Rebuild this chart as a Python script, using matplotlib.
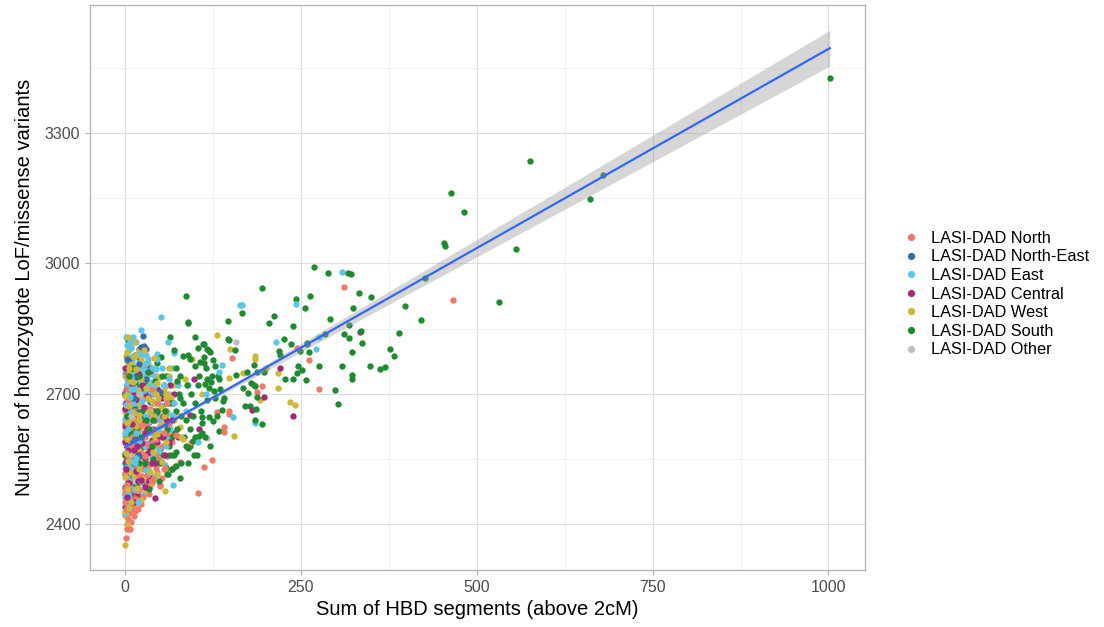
import numpy as np
import matplotlib.pyplot as plt
from matplotlib.lines import Line2D

plt.rcParams['font.family'] = ['Liberation Sans', 'DejaVu Sans']

# groups, legend order
groups = ["LASI-DAD North", "LASI-DAD North-East", "LASI-DAD East", "LASI-DAD Central",
          "LASI-DAD West", "LASI-DAD South", "LASI-DAD Other"]
colors = ["#F07A6A", "#3A6CA8", "#5CC6EA", "#A5287C", "#CDB83A", "#1F8A30", "#BEBEBE"]

# (HBD sum, hom LoF/missense count)
north_pts = [
    [1, 2368], [3, 2389], [5, 2388], [7, 2388], [2, 2398], [9, 2405], [4, 2412], [12, 2418], [0, 2422],
    [6, 2426], [14, 2430], [18, 2436], [2, 2440], [10, 2442], [22, 2446], [0, 2452], [7, 2455], [16, 2458],
    [26, 2462], [3, 2468], [12, 2470], [30, 2474], [20, 2478], [0, 2482], [8, 2485], [35, 2488], [49, 2489],
    [50, 2490], [15, 2492], [25, 2496], [4, 2500], [40, 2503], [11, 2506], [19, 2510], [31, 2514], [0, 2518],
    [45, 2520], [7, 2524], [55, 2527], [24, 2528], [14, 2532], [71, 2535], [36, 2538], [2, 2542], [18, 2546],
    [48, 2548], [9, 2552], [28, 2556], [60, 2558], [0, 2562], [40, 2566], [13, 2570], [22, 2574], [5, 2578],
    [52, 2580], [33, 2584], [17, 2588], [0, 2592], [44, 2596], [10, 2600], [27, 2604], [64, 2606], [3, 2610],
    [38, 2614], [20, 2618], [8, 2622], [50, 2626], [30, 2630], [0, 2634], [15, 2638], [42, 2642], [24, 2646],
    [6, 2650], [58, 2654], [12, 2660], [35, 2664], [0, 2668], [20, 2674], [46, 2678], [4, 2684], [28, 2690],
    [10, 2696], [0, 2704], [38, 2710], [16, 2716], [6, 2724], [26, 2732], [2, 2742], [12, 2752], [30, 2760],
    [52, 2507], [57, 2530], [78, 2544], [93, 2590], [73, 2606], [1, 2475], [3, 2530], [1, 2585], [2, 2625],
    [1, 2436], [4, 2447], [9, 2460], [13, 2478], [2, 2490], [6, 2512], [17, 2520], [10, 2538], [3, 2550],
    [21, 2562], [6, 2590], [14, 2610], [23, 2628], [1, 2646], [9, 2672], [17, 2692], [4, 2712], [33, 2650],
    [39, 2590], [26, 2560], [31, 2540], [19, 2480], [8, 2432], [24, 2510], [11, 2580], [36, 2620], [2, 2700],
    [13, 2640], [28, 2600], [45, 2560], [48, 2600], [62, 2630], [55, 2610], [67, 2590], [44, 2530],
    [38, 2500], [60, 2680], [34, 2470],
    [103, 2473], [148, 2660], [148, 2654], [131, 2659], [141, 2623], [141, 2612], [123, 2548], [112, 2531],
    [152, 2782], [194, 2718], [187, 2704], [245, 2805], [262, 2778], [275, 2711], [311, 2946], [466, 2916],
]
northeast_pts = [
    [25, 2832], [23, 2808], [27, 2811], [29, 2803], [19, 2802], [14, 2790], [6, 2776], [20, 2768], [10, 2756],
    [2, 2748], [16, 2740], [30, 2734], [8, 2722], [22, 2712], [0, 2700], [12, 2690], [35, 2682], [4, 2670],
    [18, 2658], [26, 2644], [9, 2632], [40, 2620], [1, 2610], [14, 2596], [30, 2584], [6, 2570], [20, 2556],
    [0, 2540], [11, 2520], [24, 2500], [44, 2655], [50, 2705], [52, 2673],
    [3, 2720], [13, 2760], [5, 2640], [17, 2620], [33, 2700], [8, 2590], [2, 2780], [21, 2730],
    [42, 2640], [56, 2630], [36, 2760],
]
east_pts = [
    [22, 2846], [11, 2831], [61, 2820], [23, 2791], [45, 2792], [70, 2794], [2, 2812], [33, 2780], [5, 2770],
    [15, 2764], [52, 2760], [28, 2754], [0, 2748], [40, 2744], [9, 2738], [62, 2735], [20, 2730], [2, 2722],
    [33, 2718], [13, 2712], [48, 2708], [0, 2702], [25, 2698], [7, 2692], [56, 2690], [38, 2684], [17, 2680],
    [1, 2674], [29, 2668], [44, 2662], [10, 2658], [66, 2652], [21, 2648], [0, 2642], [35, 2638], [5, 2632],
    [52, 2628], [15, 2622], [27, 2616], [0, 2610], [42, 2606], [9, 2600], [60, 2596], [20, 2592], [32, 2586],
    [3, 2580], [14, 2574], [48, 2570], [0, 2564], [25, 2558], [38, 2552], [8, 2546], [18, 2540], [56, 2536],
    [0, 2530], [30, 2524], [11, 2518], [43, 2512], [3, 2506], [22, 2500], [35, 2494], [0, 2488], [14, 2482],
    [68, 2490], [6, 2474], [26, 2468], [0, 2460], [18, 2452], [9, 2444], [2, 2436], [0, 2425], [4, 2472],
    [1, 2600], [3, 2690], [31, 2740], [46, 2780], [6, 2800], [12, 2716], [4, 2655], [16, 2610], [7, 2560],
    [24, 2620], [12, 2680], [36, 2660], [19, 2704], [8, 2500], [28, 2580], [2, 2540], [40, 2700], [10, 2776],
    [1, 2452], [5, 2466], [12, 2496], [2, 2514], [8, 2528], [15, 2552], [4, 2588], [21, 2604], [11, 2630],
    [30, 2650], [2, 2664], [16, 2672], [6, 2708], [23, 2726], [11, 2744], [1, 2758], [18, 2790], [7, 2820],
    [36, 2610], [44, 2590], [27, 2700], [14, 2540], [32, 2540], [0, 2680], [22, 2760], [9, 2710], [37, 2728],
    [50, 2650], [29, 2480], [4, 2620], [3, 2735], [14, 2748], [26, 2742], [38, 2760], [8, 2784], [19, 2776],
    [30, 2790], [42, 2720], [50, 2700], [57, 2740], [35, 2700], [24, 2684], [47, 2680], [13, 2696], [58, 2660],
    [30, 2770], [16, 2820], [1, 2830], [9, 2806], [44, 2756], [53, 2610], [64, 2620], [70, 2680], [55, 2720],
    [62, 2700], [48, 2640], [40, 2560], [34, 2520], [66, 2760], [75, 2720], [47, 2620], [58, 2580],
    [51, 2877], [163, 2904], [166, 2905], [243, 2907], [215, 2819], [271, 2804], [275, 2830], [309, 2981],
    [185, 2633], [138, 2767], [134, 2750], [153, 2646], [90, 2720], [86, 2660], [103, 2590], [115, 2700],
]
central_pts = [
    [0, 2440], [5, 2448], [12, 2452], [2, 2462], [20, 2466], [8, 2476], [0, 2484], [28, 2486], [15, 2490],
    [42, 2461], [4, 2496], [22, 2502], [10, 2508], [34, 2512], [0, 2516], [16, 2522], [6, 2530], [26, 2534],
    [42, 2540], [1, 2546], [12, 2550], [20, 2560], [32, 2564], [4, 2570], [50, 2574], [9, 2580], [24, 2586],
    [0, 2590], [38, 2594], [14, 2598], [5, 2606], [28, 2610], [18, 2616], [46, 2620], [0, 2626], [10, 2630],
    [34, 2636], [22, 2640], [3, 2648], [54, 2648], [15, 2654], [40, 2660], [0, 2664], [27, 2670], [8, 2676],
    [60, 2680], [18, 2686], [33, 2692], [2, 2696], [12, 2704], [45, 2712], [24, 2720], [5, 2728], [16, 2738],
    [36, 2752], [0, 2760], [8, 2772], [20, 2784], [30, 2696], [66, 2640], [70, 2700], [75, 2600], [56, 2560],
    [62, 2590], [2, 2520], [7, 2600], [1, 2680], [13, 2570],
    [3, 2432], [9, 2470], [18, 2500], [1, 2528], [11, 2538], [28, 2552], [6, 2558], [17, 2580], [2, 2612],
    [23, 2626], [9, 2644], [31, 2620], [1, 2708], [21, 2700], [10, 2720], [4, 2644], [14, 2466], [26, 2600],
    [7, 2690], [19, 2746], [40, 2680], [46, 2590], [6, 2496], [35, 2570], [12, 2610],
    [52, 2690], [58, 2640], [48, 2604], [44, 2700], [64, 2720], [54, 2600], [38, 2540], [30, 2500],
    [197, 2693], [180, 2663], [220, 2760], [238, 2648], [334, 2843], [92, 2652], [105, 2620], [98, 2735],
]
west_pts = [
    [0, 2352], [2, 2400], [0, 2430], [6, 2438], [14, 2444], [3, 2450], [22, 2456], [56, 2476], [10, 2464],
    [0, 2472], [30, 2478], [17, 2484], [5, 2490], [38, 2496], [25, 2504], [0, 2508], [12, 2512], [46, 2516],
    [7, 2520], [20, 2526], [32, 2530], [2, 2536], [15, 2542], [52, 2544], [26, 2550], [0, 2556], [9, 2562],
    [40, 2566], [18, 2572], [30, 2578], [3, 2584], [58, 2590], [13, 2594], [23, 2600], [0, 2604], [45, 2608],
    [7, 2614], [35, 2620], [16, 2626], [2, 2632], [28, 2636], [62, 2640], [10, 2644], [20, 2652], [0, 2658],
    [48, 2662], [31, 2666], [5, 2672], [14, 2678], [38, 2684], [24, 2688], [0, 2694], [8, 2700], [55, 2704],
    [18, 2708], [30, 2714], [2, 2718], [42, 2722], [11, 2728], [22, 2734], [0, 2740], [34, 2746], [6, 2752],
    [16, 2758], [26, 2766], [3, 2776], [12, 2784], [41, 2783], [63, 2760], [3, 2797], [13, 2818], [4, 2830],
    [20, 2800], [32, 2770], [50, 2738], [1, 2565], [4, 2620], [9, 2690], [2, 2760], [19, 2640], [27, 2710],
    [1, 2420], [8, 2452], [4, 2480], [19, 2498], [9, 2536], [22, 2540], [4, 2546], [13, 2556], [28, 2562],
    [7, 2576], [2, 2596], [17, 2612], [11, 2620], [25, 2622], [6, 2640], [15, 2664], [2, 2682], [21, 2676],
    [7, 2730], [28, 2742], [1, 2788], [9, 2768], [44, 2700], [36, 2640], [17, 2744], [23, 2780], [33, 2690],
    [11, 2700], [5, 2812], [42, 2600], [6, 2760], [19, 2752], [29, 2730], [39, 2708], [47, 2690], [53, 2670],
    [24, 2700], [12, 2656], [36, 2660], [45, 2740], [57, 2716], [15, 2790], [27, 2800], [8, 2808], [33, 2722],
    [52, 2630], [41, 2650], [60, 2660], [65, 2690], [3, 2700], [55, 2650], [68, 2720], [50, 2610], [62, 2740],
    [46, 2725], [40, 2680], [58, 2690], [70, 2640], [36, 2520], [44, 2580],
    [130, 2836], [149, 2804], [185, 2787], [185, 2779], [200, 2760], [168, 2747], [148, 2736], [192, 2686],
    [218, 2747], [217, 2714], [234, 2682], [241, 2675], [155, 2602], [85, 2735], [95, 2780], [110, 2700],
    [80, 2600], [72, 2650], [60, 2700], [66, 2560], [78, 2623], [82, 2595],
]
south_pts = [
    [4, 2823], [0, 2700], [10, 2760], [3, 2650], [18, 2720], [25, 2690], [8, 2610], [30, 2640], [14, 2580],
    [36, 2700], [0, 2560], [22, 2600], [44, 2610], [6, 2520], [40, 2550], [28, 2540], [52, 2600], [16, 2490],
    [34, 2480], [48, 2500], [0, 2470], [58, 2530], [62, 2580], [66, 2526], [61, 2516], [78, 2507], [70, 2560],
    [74, 2620], [80, 2650], [68, 2680], [76, 2700], [56, 2660], [84, 2600], [60, 2740], [72, 2760], [88, 2720],
    [51, 2785], [82, 2788], [89, 2790], [92, 2780], [99, 2765], [106, 2773], [112, 2770], [111, 2814],
    [117, 2803], [103, 2805], [121, 2795], [90, 2863], [99, 2831], [87, 2926], [89, 2864], [146, 2868],
    [146, 2827], [147, 2823], [156, 2801], [112, 2815], [118, 2801], [112, 2785], [125, 2778], [128, 2764],
    [124, 2740], [132, 2740], [134, 2733], [116, 2733], [122, 2727], [114, 2723], [119, 2714], [126, 2706],
    [141, 2691], [139, 2683], [116, 2685], [157, 2743], [138, 2662], [119, 2647], [125, 2637], [110, 2647],
    [110, 2632], [133, 2614], [102, 2560], [89, 2575], [92, 2580], [96, 2591], [105, 2603], [109, 2611],
    [72, 2566], [60, 2515], [67, 2526], [72, 2534], [94, 2700], [100, 2680], [96, 2650], [104, 2720],
    [92, 2620], [86, 2580], [98, 2560], [90, 2540], [100, 2600], [108, 2660], [114, 2600], [70, 2800],
    [64, 2830], [45, 2770], [42, 2730], [120, 2580], [128, 2690], [135, 2710], [105, 2740], [115, 2760],
    [130, 2650], [80, 2540], [74, 2730], [82, 2680], [2, 2590], [12, 2670], [20, 2540], [5, 2740],
    [6, 2640], [15, 2620], [24, 2660], [34, 2620], [10, 2700], [28, 2720], [46, 2660], [38, 2580],
    [18, 2560], [50, 2540], [3, 2600], [32, 2750], [55, 2720], [26, 2580], [12, 2540], [40, 2640],
    [58, 2610], [64, 2680], [48, 2700], [20, 2740], [54, 2560], [66, 2600], [72, 2660], [78, 2690],
    [64, 2560], [86, 2640], [52, 2740], [78, 2740], [70, 2610], [60, 2620],
    [1002, 3427], [679, 3204], [661, 3148], [576, 3235], [464, 3161], [482, 3118], [454, 3046], [455, 3041],
    [556, 3032], [531, 2911], [426, 2966], [268, 2991], [289, 2978], [317, 2978], [321, 2976], [332, 2932],
    [349, 2922], [263, 2924], [243, 2917], [256, 2897], [194, 2943], [166, 2885], [211, 2880], [204, 2862],
    [239, 2857], [292, 2871], [318, 2858], [335, 2845], [311, 2837], [318, 2828], [324, 2898], [337, 2816],
    [323, 2795], [398, 2902], [421, 2870], [390, 2840], [377, 2802], [383, 2787], [348, 2763], [363, 2756],
    [369, 2761], [309, 2764], [322, 2743], [322, 2733], [276, 2765], [299, 2708], [302, 2676], [236, 2815],
    [226, 2825], [219, 2799], [220, 2789], [261, 2796], [258, 2815], [248, 2799], [246, 2763], [252, 2754],
    [245, 2747], [257, 2732], [238, 2734], [228, 2735], [183, 2766], [173, 2751], [188, 2750], [198, 2751],
    [179, 2725], [183, 2720], [185, 2717], [168, 2714], [175, 2703], [187, 2693], [171, 2673], [178, 2673],
    [186, 2664], [185, 2640], [194, 2631], [284, 2838], [258, 2816],
]
other_pts = [
    [0, 2620], [10, 2680], [5, 2560], [20, 2700], [2, 2740], [14, 2500], [30, 2620], [8, 2650],
    [116, 2599], [157, 2818],
]
group_pts = [north_pts, northeast_pts, east_pts, central_pts, west_pts, south_pts, other_pts]

# linear fit (geom_smooth, method = lm)
fit_intercept = 2577
fit_slope = 0.916
fit_x_mean = 25
fit_se_mean = 1.3
fit_se_slope = 0.0214
fit_x_min, fit_x_max = 0, 1002

fig = plt.figure(figsize=(11.04, 6.27), dpi=100)
ax = fig.add_axes([0.0815, 0.091, 0.702, 0.901])

# interleave groups so no single colour sits on top of the cluster
n_chunks = 4
for k in range(n_chunks):
    for pts, col in zip(group_pts, colors):
        arr = np.array(pts, dtype=float)[k::n_chunks]
        if len(arr):
            ax.scatter(arr[:, 0], arr[:, 1], s=21, color=col, linewidths=0, zorder=3)

xs = np.linspace(fit_x_min, fit_x_max, 200)
ys = fit_intercept + fit_slope * xs
half = 1.96 * np.sqrt(fit_se_mean ** 2 + (fit_se_slope * (xs - fit_x_mean)) ** 2)
ax.fill_between(xs, ys - half, ys + half, color="#999999", alpha=0.4, linewidth=0, zorder=4)
ax.plot(xs, ys, color="#3366FF", linewidth=1.6, zorder=5)

ax.set_xlim(-50, 1052)
ax.set_ylim(2295, 3594)
ax.set_xticks([0, 250, 500, 750, 1000])
ax.set_yticks([2400, 2700, 3000, 3300])
ax.set_xticks([125, 375, 625, 875], minor=True)
ax.set_yticks([2550, 2850, 3150, 3450], minor=True)
ax.grid(which="major", color="#DEDEDE", linewidth=0.8, zorder=0)
ax.grid(which="minor", color="#EBEBEB", linewidth=0.5, zorder=0)
ax.set_axisbelow(True)
for sp in ax.spines.values():
    sp.set_color("#B3B3B3")
    sp.set_linewidth(0.9)
ax.tick_params(which="major", length=3.5, color="#B3B3B3", labelcolor="#4D4D4D", labelsize=11.5)
ax.tick_params(which="minor", length=0)

ax.set_xlabel("Sum of HBD segments (above 2cM)", fontsize=14.5, labelpad=4)
ax.set_ylabel("Number of homozygote LoF/missense variants", fontsize=14.5, labelpad=8)

handles = [Line2D([], [], marker="o", linestyle="", color=c, markersize=4.2) for c in colors]
fig.legend(handles, groups, loc="center left", bbox_to_anchor=(0.806, 0.531), frameon=False,
           fontsize=11.8, labelspacing=0.22, handlelength=0.8, handletextpad=0.8)

fig.savefig("out.png", dpi=100, facecolor="white")
